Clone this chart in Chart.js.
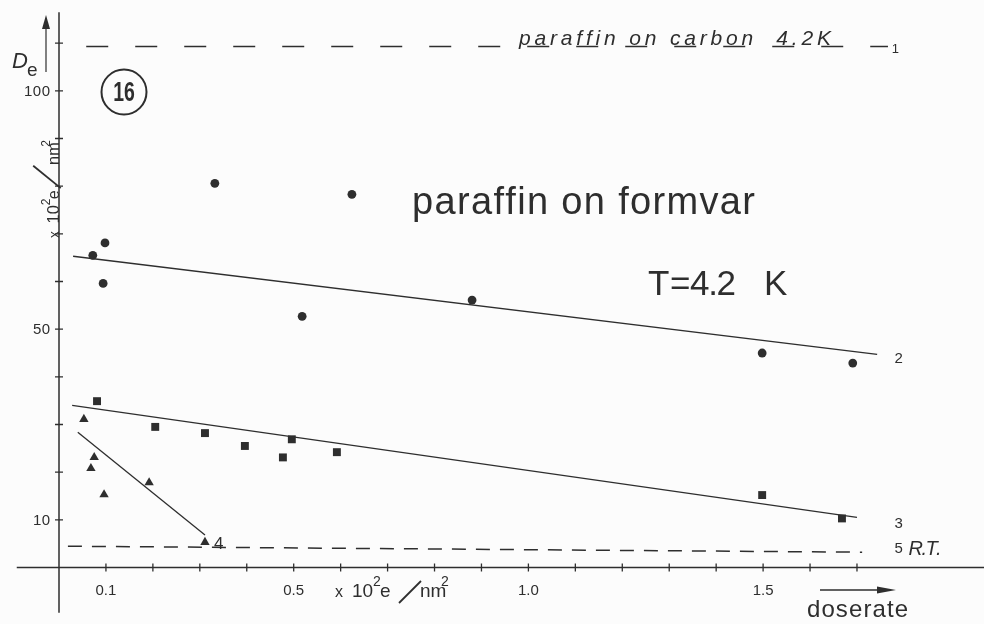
<!DOCTYPE html>
<html>
<head>
<meta charset="utf-8">
<script src="https://cdn.jsdelivr.net/npm/chart.js@4"></script>
<style>
  html, body { margin: 0; padding: 0; background: #fcfcfc; }
  #wrap { width: 984px; height: 624px; position: relative; }
</style>
</head>
<body>
<div id="wrap"><canvas id="fig16"></canvas></div>
<script>
// doserate (x 10^2 e/nm^2) against D_e (x 10^2 e/nm^2)
const formvarX = [0.072, 0.098, 0.094, 0.332, 0.624, 0.518, 0.880, 1.498, 1.691];
const formvarY = [65.5, 68.1, 59.6, 80.6, 78.3, 52.7, 56.1, 45.0, 42.9];

const squareX = [0.081, 0.205, 0.311, 0.396, 0.477, 0.496, 0.592, 1.498, 1.668];
const squareY = [34.9, 29.5, 28.2, 25.5, 23.1, 26.9, 24.2, 15.2, 10.3];

const triangleX = [0.053, 0.075, 0.068, 0.096, 0.192, 0.311];
const triangleY = [31.1, 23.1, 20.8, 15.3, 17.8, 5.3];

// drawn fit lines (2, 3, 4) and the reference levels (1 = carbon 4.2K, 5 = R.T.)
const line2X = [0.030, 1.743], line2Y = [65.3, 44.7];
const line3X = [0.028, 1.700], line3Y = [34.0, 10.5];
const line4X = [0.040, 0.311], line4Y = [28.4, 6.8];
const line1X = [0.058, 1.766], line1Y = [109.3, 109.3];
const line5X = [0.019, 1.711], line5Y = [4.47, 3.21];

// axes
const yTickValues = [10, 20, 30, 40, 50, 60, 70, 80, 90, 100, 110];
const yLabelValues = [10, 50, 100];
const xTickValues = [0.1, 0.2, 0.3, 0.4, 0.5, 0.6, 0.7, 0.8, 0.9, 1.0, 1.1, 1.2, 1.3, 1.4, 1.5, 1.6, 1.7];
const xLabelValues = [0.1, 0.5, 1.0, 1.5];
const xLabelText = ['0.1', '0.5', '1.0', '1.5'];

const ink = '#2e2e2e';
const font = '"Liberation Sans", Arial, sans-serif';

function pts(xs, ys) {
    return xs.map((x, i) => ({ x: x, y: ys[i] }));
}

// text stretched over a given width, char by char
function spacedText(ctx, text, x, y, width) {
    const chars = [...text];
    const w = chars.map(c => ctx.measureText(c).width);
    const total = w.reduce((a, b) => a + b, 0);
    const gap = chars.length > 1 ? (width - total) / (chars.length - 1) : 0;
    let cx = x;
    chars.forEach((c, i) => { ctx.fillText(c, cx, y); cx += w[i] + gap; });
}

// "x 10^2 e/nm^2" with the drawn slash, baseline at 0
function unitLabel(ctx, s, slash) {
    ctx.textAlign = 'left';
    ctx.textBaseline = 'alphabetic';
    ctx.font = (16 * s) + 'px ' + font;
    ctx.fillText('x', 0, 0);
    ctx.font = (19 * s) + 'px ' + font;
    ctx.fillText('10', 17 * s, 0);
    ctx.font = (14 * s) + 'px ' + font;
    ctx.fillText('2', 38 * s, -11 * s);
    ctx.font = (19 * s) + 'px ' + font;
    ctx.fillText('e', 45 * s, 0);
    ctx.fillText('nm', 85 * s, 0);
    ctx.font = (14 * s) + 'px ' + font;
    ctx.fillText('2', 106 * s, -11 * s);
    ctx.beginPath();
    ctx.lineWidth = 1.8;
    ctx.moveTo(slash[0] * s, slash[1] * s);
    ctx.lineTo(slash[2] * s, slash[3] * s);
    ctx.stroke();
}

const figurePlugin = {
    id: 'figure16',
    beforeDraw(chart) {
        const ctx = chart.ctx;
        ctx.save();
        ctx.fillStyle = '#fcfcfc';
        ctx.fillRect(0, 0, chart.width, chart.height);
        ctx.restore();
    },
    beforeDatasetsDraw(chart) {
        const ctx = chart.ctx;
        const xs = chart.scales.x, ys = chart.scales.y;
        const x0 = xs.getPixelForValue(0), y0 = ys.getPixelForValue(0);
        ctx.save();
        ctx.strokeStyle = ink;
        ctx.fillStyle = ink;
        ctx.lineWidth = 1.5;

        // axis lines
        ctx.beginPath();
        ctx.moveTo(x0, ys.getPixelForValue(116.5));
        ctx.lineTo(x0, ys.getPixelForValue(-9.5));
        ctx.moveTo(xs.getPixelForValue(-0.09), y0);
        ctx.lineTo(chart.width, y0);
        ctx.stroke();

        // ticks
        ctx.lineWidth = 1.3;
        ctx.beginPath();
        yTickValues.forEach(v => {
            const p = ys.getPixelForValue(v);
            ctx.moveTo(x0 - 4, p); ctx.lineTo(x0 + 4, p);
        });
        xTickValues.forEach(v => {
            const p = xs.getPixelForValue(v);
            ctx.moveTo(p, y0 - 4); ctx.lineTo(p, y0 + 4);
        });
        ctx.stroke();

        // tick labels
        ctx.font = '15px ' + font;
        ctx.textBaseline = 'middle';
        ctx.textAlign = 'left';
        yLabelValues.forEach(v => {
            const txt = String(v);
            const wid = txt.length * 9;
            spacedText(ctx, txt, x0 - 8 - wid, ys.getPixelForValue(v) + 1, wid - 1);
        });
        ctx.textAlign = 'center';
        ctx.textBaseline = 'alphabetic';
        xLabelValues.forEach((v, i) => {
            ctx.fillText(xLabelText[i], xs.getPixelForValue(v), y0 + 27);
        });
        ctx.restore();
    },
    afterDatasetsDraw(chart) {
        const ctx = chart.ctx;
        const xs = chart.scales.x, ys = chart.scales.y;
        ctx.save();
        ctx.strokeStyle = ink;
        ctx.fillStyle = ink;

        // D_e with the arrow
        ctx.textAlign = 'left';
        ctx.textBaseline = 'alphabetic';
        ctx.font = 'italic 22px ' + font;
        ctx.fillText('D', 12, 68);
        ctx.font = '19px ' + font;
        ctx.fillText('e', 27, 76);
        ctx.lineWidth = 1.2;
        ctx.beginPath();
        ctx.moveTo(46, 72); ctx.lineTo(46, 27);
        ctx.stroke();
        ctx.beginPath();
        ctx.moveTo(46, 15); ctx.lineTo(42, 29); ctx.lineTo(50, 29);
        ctx.closePath();
        ctx.fill();

        // circled figure number
        ctx.lineWidth = 2;
        ctx.beginPath();
        ctx.arc(124, 92, 22.5, 0, Math.PI * 2);
        ctx.stroke();
        ctx.save();
        ctx.translate(124, 93);
        ctx.scale(0.72, 1);
        ctx.font = 'bold 27px ' + font;
        ctx.textAlign = 'center';
        ctx.textBaseline = 'middle';
        ctx.fillText('16', 0, 1);
        ctx.restore();

        // units, vertical and horizontal
        ctx.save();
        ctx.translate(59, 238);
        ctx.rotate(-Math.PI / 2);
        unitLabel(ctx, 0.86, [58, 2, 84, -30]);
        ctx.restore();
        ctx.save();
        ctx.translate(335, 597);
        unitLabel(ctx, 1, [64, 6, 86, -16]);
        ctx.restore();

        // big titles
        ctx.textAlign = 'left';
        ctx.textBaseline = 'alphabetic';
        ctx.font = '38px ' + font;
        spacedText(ctx, 'paraffin on formvar', 412, 214, 343);
        ctx.font = '35px ' + font;
        ctx.fillText('T', 648, 295);
        ctx.fillText('=', 670, 295);
        spacedText(ctx, '4.2', 690, 295, 46);
        ctx.fillText('K', 764, 295);

        // carbon reference text on line 1
        ctx.font = 'italic 21px ' + font;
        spacedText(ctx, 'paraffin on carbon  4.2K', 519, 45, 312);
        ctx.font = '13px ' + font;
        ctx.fillText('1', xs.getPixelForValue(1.774), ys.getPixelForValue(109.3) + 6);

        // line numbers
        ctx.font = '15px ' + font;
        ctx.fillText('2', xs.getPixelForValue(1.78), ys.getPixelForValue(44.0) + 5);
        ctx.fillText('3', xs.getPixelForValue(1.78), ys.getPixelForValue(9.4) + 5);
        ctx.fillText('5', xs.getPixelForValue(1.78), ys.getPixelForValue(4.0) + 5);
        ctx.font = '17px ' + font;
        ctx.fillText('4', xs.getPixelForValue(0.33), ys.getPixelForValue(5.2) + 6);
        ctx.font = 'italic 20px ' + font;
        spacedText(ctx, 'R.T.', xs.getPixelForValue(1.81), ys.getPixelForValue(4.0) + 7, 33);

        // doserate with arrow
        ctx.font = '24px ' + font;
        spacedText(ctx, 'doserate', 807, 617, 101);
        ctx.lineWidth = 1.4;
        ctx.beginPath();
        ctx.moveTo(820, 590); ctx.lineTo(880, 590);
        ctx.stroke();
        ctx.beginPath();
        ctx.moveTo(896, 590); ctx.lineTo(877, 586.5); ctx.lineTo(877, 593.5);
        ctx.closePath();
        ctx.fill();
        ctx.restore();
    }
};

const ctx = document.getElementById('fig16').getContext('2d');

const fitLine = (xs, ys) => ({
    data: pts(xs, ys), showLine: true, pointRadius: 0,
    borderColor: ink, borderWidth: 1.3
});

const chart = new Chart(ctx, {
    type: 'scatter',
    data: {
        datasets: [
            { label: 'paraffin on formvar', data: pts(formvarX, formvarY), pointStyle: 'circle',
              pointRadius: 4.4, backgroundColor: ink, borderColor: ink, borderWidth: 0 },
            { label: 'squares', data: pts(squareX, squareY), pointStyle: 'rect',
              pointRadius: 5.6, backgroundColor: ink, borderColor: ink, borderWidth: 0 },
            { label: 'triangles', data: pts(triangleX, triangleY), pointStyle: 'triangle',
              pointRadius: 5.4, backgroundColor: ink, borderColor: ink, borderWidth: 0 },
            Object.assign(fitLine(line2X, line2Y), { label: '2' }),
            Object.assign(fitLine(line3X, line3Y), { label: '3' }),
            Object.assign(fitLine(line4X, line4Y), { label: '4' }),
            Object.assign(fitLine(line1X, line1Y), { label: '1', borderDash: [22, 27], borderWidth: 1.5 }),
            Object.assign(fitLine(line5X, line5Y), { label: '5', borderDash: [14, 10], borderWidth: 1.5 })
        ]
    },
    options: {
        responsive: true,
        maintainAspectRatio: false,
        animation: false,
        layout: { padding: 0, autoPadding: false },
        plugins: { legend: { display: false }, tooltip: { enabled: false } },
        scales: {
            x: { type: 'linear', display: false, min: -0.1257, max: 1.9706 },
            y: { type: 'linear', display: false, min: -11.85, max: 119.06 }
        }
    },
    plugins: [figurePlugin]
});
</script>
</body>
</html>
